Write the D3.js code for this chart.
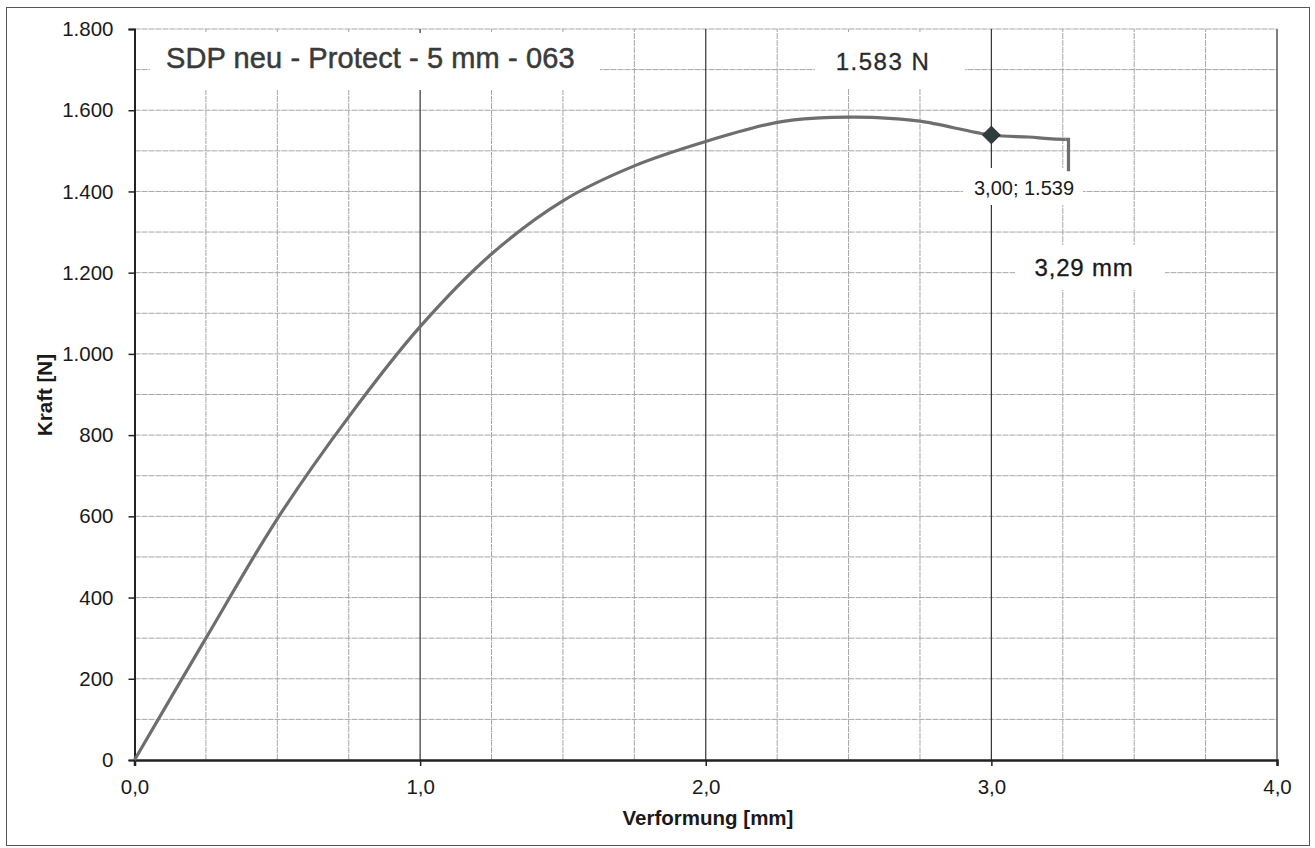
<!DOCTYPE html>
<html>
<head>
<meta charset="utf-8">
<script src="https://cdn.jsdelivr.net/npm/d3@7"></script>
<style>
  html, body { margin: 0; padding: 0; background: #fff; }
  svg { display: block; font-family: "Liberation Sans", Arial, sans-serif; }
</style>
</head>
<body>
<svg id="chart" width="1315" height="848"></svg>
<script>
// ---- data ----
const deformation = [0, 0.25, 0.5, 0.75, 1.0, 1.25, 1.5, 1.75, 2.0, 2.25, 2.4, 2.5, 2.6, 2.75, 3.0, 3.13, 3.2, 3.26];
const force       = [0, 300, 594, 845, 1067, 1246, 1377, 1463, 1523, 1570, 1581, 1583, 1582, 1573, 1539, 1534, 1530, 1528];
const dropX = [3.26, 3.27, 3.27];
const dropY = [1528, 1528, 1450];
const markerPoint = { x: 3.0, y: 1539 };
const xTicks = [0, 1, 2, 3, 4];
const yTicks = [0, 200, 400, 600, 800, 1000, 1200, 1400, 1600, 1800];
const titleText = "SDP neu - Protect - 5 mm - 063";
const maxLabel = "1.583 N";
const pointLabel = "3,00; 1.539";
const endLabel = "3,29 mm";
const xTitle = "Verformung [mm]";
const yTitle = "Kraft [N]";

const svg = d3.select("#chart");
const x = d3.scaleLinear().domain([0, 4]).range([134.5, 1277]);
const y = d3.scaleLinear().domain([0, 1800]).range([760, 29]);

const fmtX = d => d.toFixed(1).replace(".", ",");
const fmtY = d => d >= 1000 ? d3.format(",")(d).replace(",", ".") : String(d);

// outer frame
svg.append("rect").attr("x", 6.5).attr("y", 7.5).attr("width", 1303).attr("height", 838)
  .attr("fill", "#fff").attr("stroke", "#555").attr("stroke-width", 1);

const g = svg.append("g");

// horizontal grid every 100
g.selectAll(".hg").data(d3.range(100, 1801, 100)).join("line")
  .attr("x1", x(0)).attr("x2", x(4)).attr("y1", d => y(d)).attr("y2", d => y(d))
  .attr("stroke", "#a6a6a6").attr("stroke-width", 1).attr("stroke-dasharray", "6,1");

// vertical minor grid every 0.25
g.selectAll(".vg").data(d3.range(0.25, 4, 0.25).filter(d => Math.abs(d - Math.round(d)) > 1e-6)).join("line")
  .attr("x1", d => x(d)).attr("x2", d => x(d)).attr("y1", y(0)).attr("y2", y(1800))
  .attr("stroke", "#a6a6a6").attr("stroke-width", 1).attr("stroke-dasharray", "6,1");

// vertical major grid
g.selectAll(".vmg").data([1, 2, 3]).join("line")
  .attr("x1", d => x(d)).attr("x2", d => x(d)).attr("y1", y(0)).attr("y2", y(1800))
  .attr("stroke", "#333").attr("stroke-width", 1.2);

// right edge
g.append("line").attr("x1", x(4)).attr("x2", x(4)).attr("y1", y(0)).attr("y2", y(1800))
  .attr("stroke", "#555").attr("stroke-width", 1.5);

// text boxes (white backgrounds that hide the grid)
const boxes = [
  [150, 33, 450, 57],
  [815, 33, 150, 55],
  [963, 168, 120, 37],
  [1015, 245, 150, 45]
];
g.selectAll(".box").data(boxes).join("rect")
  .attr("x", d => d[0]).attr("y", d => d[1]).attr("width", d => d[2]).attr("height", d => d[3])
  .attr("fill", "#fff");

// axes
const yAxis = d3.axisLeft(y).tickValues(yTicks).tickSize(6).tickPadding(15).tickFormat(fmtY);
const yg = svg.append("g").attr("transform", `translate(${x(0)},0)`).call(yAxis);
yg.select(".domain").attr("stroke", "#222").attr("stroke-width", 2);
yg.selectAll(".tick line").attr("stroke", "#222").attr("stroke-width", 1.5);
yg.selectAll(".tick text").attr("font-size", 20.5).attr("fill", "#1a1a1a")
  .attr("font-family", "Liberation Sans, Arial, sans-serif");

const xAxis = d3.axisBottom(x).tickValues(xTicks).tickSize(6).tickPadding(13).tickFormat(fmtX);
const xg = svg.append("g").attr("transform", `translate(0,${y(0)})`).call(xAxis);
xg.select(".domain").attr("stroke", "#222").attr("stroke-width", 2.5);
xg.selectAll(".tick line").attr("stroke", "#222").attr("stroke-width", 1.5);
xg.selectAll(".tick text").attr("font-size", 20.5).attr("fill", "#1a1a1a")
  .attr("font-family", "Liberation Sans, Arial, sans-serif");

// axis titles
svg.append("text").attr("x", 708).attr("y", 825).attr("text-anchor", "middle")
  .attr("font-size", 20.5).attr("font-weight", "bold").attr("fill", "#1a1a1a").text(xTitle);
svg.append("text").attr("transform", "translate(52,395) rotate(-90)").attr("text-anchor", "middle")
  .attr("font-size", 20.5).attr("font-weight", "bold").attr("fill", "#1a1a1a").text(yTitle);

// curve
const pts = deformation.map((d, i) => [d, force[i]]);
const line = d3.line().x(d => x(d[0])).y(d => y(d[1])).curve(d3.curveCatmullRom.alpha(0.5));
svg.append("path").datum(pts).attr("d", line)
  .attr("fill", "none").attr("stroke", "#6e6e6e").attr("stroke-width", 3.2).attr("stroke-linejoin", "round");
const dropPts = dropX.map((d, i) => [d, dropY[i]]);
svg.append("path").datum(dropPts).attr("d", d3.line().x(d => x(d[0])).y(d => y(d[1])))
  .attr("fill", "none").attr("stroke", "#6e6e6e").attr("stroke-width", 3.2);

// marker
svg.append("path").attr("d", d3.symbol(d3.symbolDiamond2, 200)())
  .attr("transform", `translate(${x(markerPoint.x)},${y(markerPoint.y)})`)
  .attr("fill", "#2e3d3d").attr("stroke", "#1f2a2a").attr("stroke-width", 1);

// labels
svg.append("text").attr("x", 166).attr("y", 68).attr("font-size", 29).attr("fill", "#3a3a3a")
  .attr("stroke", "#3a3a3a").attr("stroke-width", 0.5).attr("letter-spacing", 0.1).text(titleText);
svg.append("text").attr("x", 883).attr("y", 70).attr("text-anchor", "middle").attr("font-size", 24)
  .attr("fill", "#2a2a2a").attr("stroke", "#2a2a2a").attr("stroke-width", 0.3)
  .attr("letter-spacing", 1.5).text(maxLabel);
svg.append("text").attr("x", 1024).attr("y", 195).attr("text-anchor", "middle").attr("font-size", 20)
  .attr("fill", "#1a1a1a").text(pointLabel);
svg.append("text").attr("x", 1084).attr("y", 276).attr("text-anchor", "middle").attr("font-size", 24)
  .attr("fill", "#1a1a1a").attr("stroke", "#1a1a1a").attr("stroke-width", 0.3)
  .attr("letter-spacing", 0.8).text(endLabel);
</script>
</body>
</html>
